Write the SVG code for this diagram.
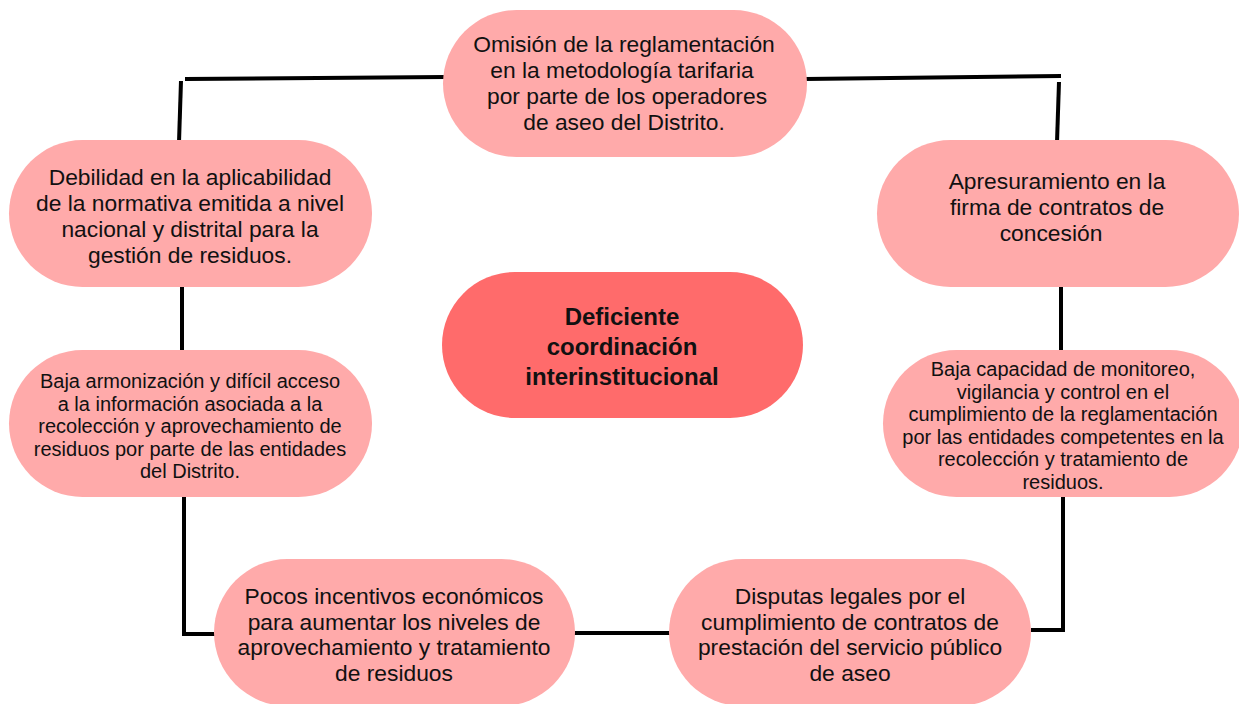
<svg xmlns="http://www.w3.org/2000/svg" width="1239" height="704" viewBox="0 0 1239 704">
<style>
.n{fill:#ffaaaa}
.c{fill:#ff6b6b}
.t{font-family:"Liberation Sans",Arial,sans-serif;fill:#111;text-anchor:middle}
.l{font-size:22.8px}
.s{font-size:20px}
.b{font-size:24px;font-weight:bold}
.k{stroke:#000;stroke-width:4;fill:none}
</style>
<rect width="1239" height="704" fill="#fff"/>
<g id="connectors">
<line class="k" x1="185" y1="79" x2="445" y2="77"/>
<line class="k" x1="181" y1="81" x2="179" y2="142"/>
<line class="k" x1="805" y1="79" x2="1061" y2="76"/>
<line class="k" x1="1059" y1="82" x2="1057" y2="142"/>
<line class="k" x1="182" y1="285" x2="182" y2="352"/>
<line class="k" x1="1061" y1="285" x2="1061" y2="352"/>
<polyline class="k" points="184,495 184,634 215,634"/>
<polyline class="k" points="1063,495 1063,630 1031,630"/>
<line class="k" x1="573" y1="633" x2="671" y2="633"/>
</g>
<g id="top">
<rect class="n" x="443" y="10" width="364" height="147" rx="73.5"/>
<text class="t l" x="624"><tspan x="624" y="52">Omisión de la reglamentación</tspan><tspan x="622" y="78">en la metodología tarifaria</tspan><tspan x="627" y="104">por parte de los operadores</tspan><tspan x="624" y="130">de aseo del Distrito.</tspan></text>
</g>
<g id="debilidad">
<rect class="n" x="9" y="140" width="363" height="147" rx="73.5"/>
<text class="t l"><tspan x="190" y="185">Debilidad en la aplicabilidad</tspan><tspan x="190" y="211">de la normativa emitida a nivel</tspan><tspan x="190" y="237">nacional y distrital para la</tspan><tspan x="190" y="263">gestión de residuos.</tspan></text>
</g>
<g id="apresuramiento">
<rect class="n" x="877" y="140" width="362" height="147" rx="73.5"/>
<text class="t l"><tspan x="1057" y="189">Apresuramiento en la</tspan><tspan x="1057" y="215">firma de contratos de</tspan><tspan x="1051" y="241">concesión</tspan></text>
</g>
<g id="armonizacion">
<rect class="n" x="9" y="350" width="363" height="147" rx="73.5"/>
<text class="t s"><tspan x="190" y="388">Baja armonización y difícil acceso</tspan><tspan x="190" y="410.5">a la información asociada a la</tspan><tspan x="190" y="433">recolección y aprovechamiento de</tspan><tspan x="190" y="455.5">residuos por parte de las entidades</tspan><tspan x="190" y="478">del Distrito.</tspan></text>
</g>
<g id="capacidad">
<rect class="n" x="883" y="350" width="360" height="147" rx="73.5"/>
<text class="t s"><tspan x="1063" y="376">Baja capacidad de monitoreo,</tspan><tspan x="1063" y="398.5">vigilancia y control en el</tspan><tspan x="1063" y="421">cumplimiento de la reglamentación</tspan><tspan x="1063" y="443.5">por las entidades competentes en la</tspan><tspan x="1063" y="466">recolección y tratamiento de</tspan><tspan x="1063" y="488.5">residuos.</tspan></text>
</g>
<g id="incentivos">
<rect class="n" x="214" y="559" width="361" height="147" rx="73.5"/>
<text class="t l"><tspan x="394" y="604">Pocos incentivos económicos</tspan><tspan x="394" y="629.5">para aumentar los niveles de</tspan><tspan x="394" y="655">aprovechamiento y tratamiento</tspan><tspan x="394" y="680.5">de residuos</tspan></text>
</g>
<g id="disputas">
<rect class="n" x="669" y="559" width="362" height="147" rx="73.5"/>
<text class="t l"><tspan x="850" y="604">Disputas legales por el</tspan><tspan x="850" y="629.5">cumplimiento de contratos de</tspan><tspan x="850" y="655">prestación del servicio público</tspan><tspan x="850" y="680.5">de aseo</tspan></text>
</g>
<g id="center">
<rect class="c" x="442" y="272" width="361" height="146" rx="73"/>
<text class="t b"><tspan x="622" y="325">Deficiente</tspan><tspan x="622" y="355">coordinación</tspan><tspan x="622" y="385">interinstitucional</tspan></text>
</g>
</svg>
